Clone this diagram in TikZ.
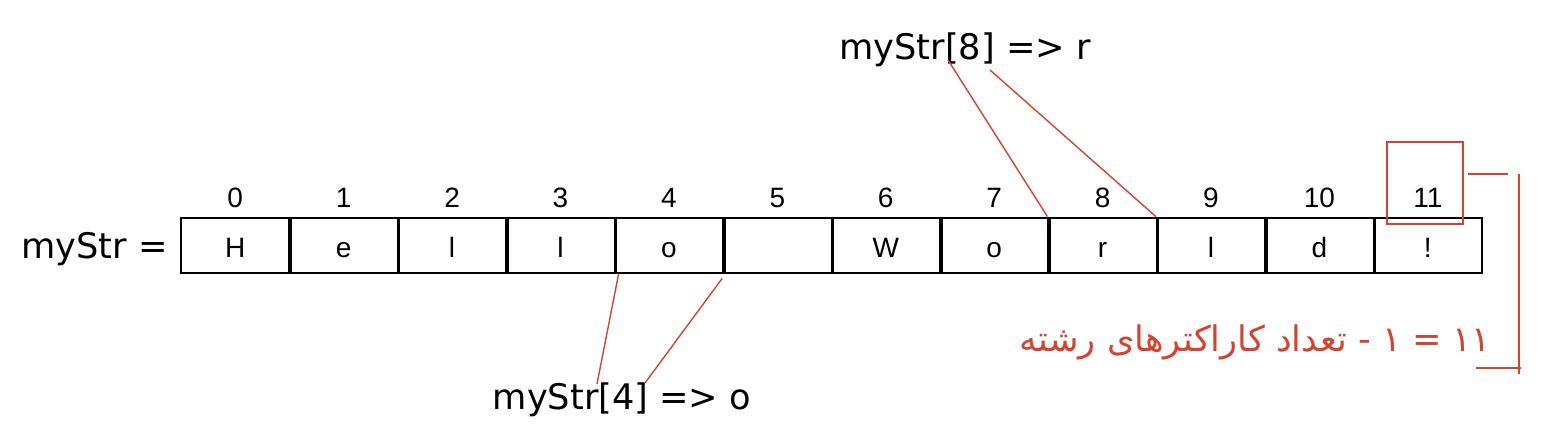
\documentclass[tikz,border=0pt]{standalone}
\usepackage{fontspec}
\setmainfont{Liberation Sans}
\newfontfamily\dejavu{DejaVu Sans}
\newfontfamily\arabicfont[Script=Arabic]{DejaVu Sans}
\TeXXeTstate=1
\usepackage{tikz}
\usetikzlibrary{positioning}
\definecolor{redline}{RGB}{208,68,48}
\tikzstyle{cell} = [draw, line width=1pt, minimum width=54.2pt, minimum height=27.5pt, inner sep=0pt, text height=12pt, text depth=0pt, font=\fontsize{14}{16}\selectfont]
\tikzstyle{idx} = [inner sep=0pt, text height=11pt, text depth=0pt, font=\fontsize{14}{16}\selectfont]
\tikzstyle{big} = [inner sep=0pt, font=\dejavu\fontsize{17.6}{20}\selectfont]
\tikzstyle{link} = [redline, line width=0.7pt]

\begin{document}
\begin{tikzpicture}[x=0.5pt, y=-0.5pt]
    \useasboundingbox (0,0) rectangle (1552,444);
    % the string cells
    \foreach \ch [count=\i from 0] in {H,e,l,l,o,{},W,o,r,l,d,!} {
      \node[cell] (c\i) at (181+108.42*\i+54.21,245) {\ch};
      \node[idx] (i\i) at (181+108.42*\i+54.21,196) {\i};
    }
    \foreach \i in {0,...,10}
      \draw[line width=1.6pt] (c\i.north east) -- (c\i.south east);
    \node[big, anchor=east] (name) at (168,249) {myStr =};
    % index examples
    \node[big] (ex8) at (965,50) {myStr[8] => r};
    \node[big] (ex4) at (622,400) {myStr[4] => o};
    \coordinate (ex8a) at (948,60);
    \coordinate (ex8b) at (990,70);
    \coordinate (ex4a) at (597,384);
    \coordinate (ex4b) at (645,383);
    \draw[link] (ex8a) -- (c8.north west);
    \draw[link] (ex8b) -- (c9.north west);
    \draw[link] (ex4a) -- ([xshift=2.5pt]c4.south west);
    \draw[link] (ex4b) -- ([yshift=-2.5pt]c5.south west);
    % length note
    \node[draw=redline, line width=0.7pt, minimum width=38pt, minimum height=41pt] (box) at (1425,183) {};
    \coordinate (br1) at (1468,174);
    \coordinate (br2) at (1519,174);
    \coordinate (br3) at (1519,374);
    \coordinate (br4) at (1476,368);
    \draw[link] (br1) -- ++(40,0);
    \draw[link] (br2) -- (br3);
    \draw[link] (br4) -- ++(45,0);
    \node[inner sep=0pt, text=redline, anchor=east, font=\arabicfont\fontsize{17.6}{20}\selectfont] (len) at (1491,342) {\beginR ۱۱ = ۱ - تعداد کاراکترهای رشته\endR};
\end{tikzpicture}
\end{document}
